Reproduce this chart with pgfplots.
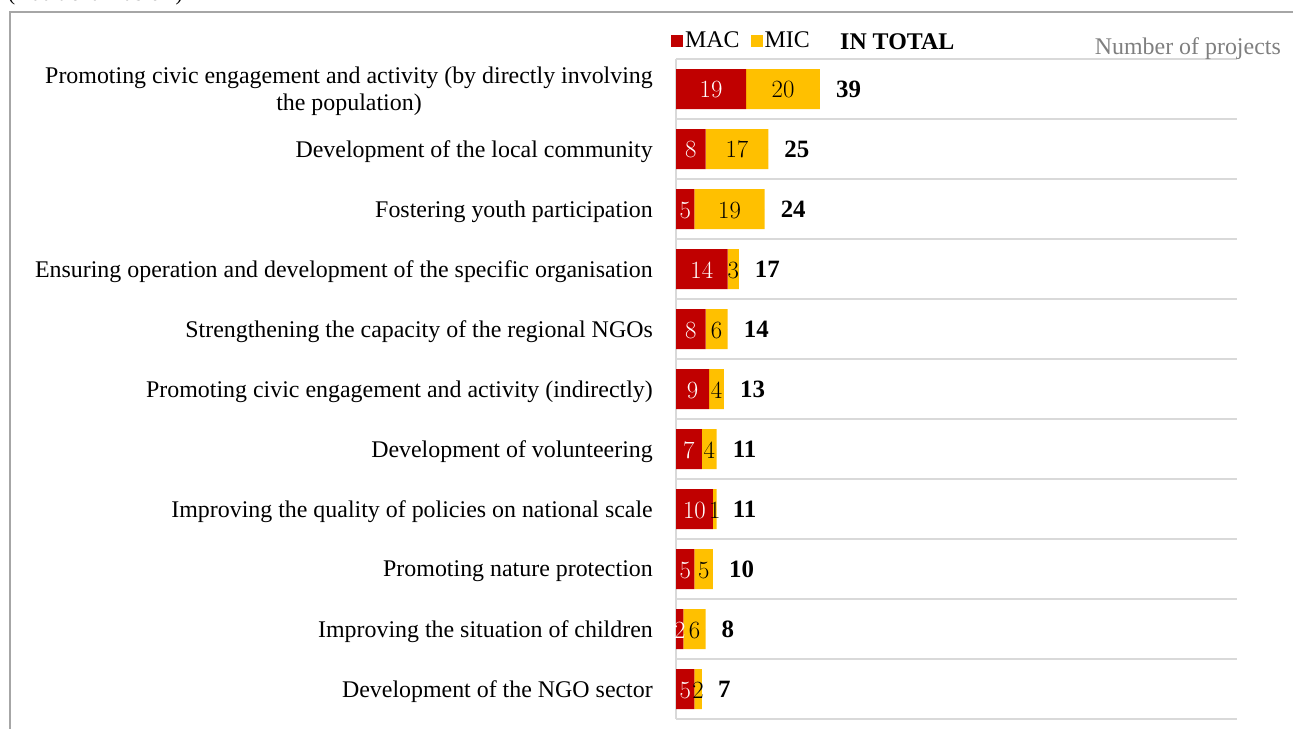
\documentclass[border=0pt]{standalone}
\usepackage{fontspec}
\setmainfont{Liberation Serif}
\usepackage{pgfplots}
\pgfplotsset{compat=1.18}
\usepackage{pgfplotstable}
\definecolor{macred}{HTML}{C00000}
\definecolor{micyel}{HTML}{FFC000}
\definecolor{gridgray}{HTML}{D9D9D9}
\definecolor{framegray}{HTML}{A6A6A6}
\definecolor{unitgray}{HTML}{7F7F7F}

% idx 0 = top row
\pgfplotstableread{
idx mac mic total
0   19  20  39
1   8   17  25
2   5   19  24
3   14  3   17
4   8   6   14
5   9   4   13
6   7   4   11
7   10  1   11
8   5   5   10
9   2   6   8
10  5   2   7
}\projects

\newcommand\lbl{\fontsize{24}{27}\selectfont}
\newcommand\inbar{\fontsize{24}{26}\selectfont}
\newcommand\tot{\fontsize{25}{28}\selectfont\bfseries}

\pgfplotsset{rowaxis/.style={
  at={(676bp,-719bp)}, anchor=south west,
  scale only axis, width=561bp, height=660bp,
  xmin=0, xmax=152, ymin=-0.5, ymax=10.5, y dir=reverse}}

\begin{document}
\begin{tikzpicture}[x=1bp,y=1bp]
\path[use as bounding box] (0,0) rectangle (1293,-729);
\clip (0,0) rectangle (1293,-729);
\draw[framegray, line width=1.2bp] (1300,-12) -- (10,-12) -- (10,-740);
\node[anchor=base west, inner sep=0pt, font=\fontsize{21.5}{24}\selectfont] at (8,-1) {(Additional Table 2)};

\begin{axis}[
  rowaxis,
  xbar stacked, bar width=40bp,
  axis x line=none, axis y line*=left,
  axis line style={gridgray, line width=1.5bp},
  ytick={0,...,10},
  yticklabels={{Promoting civic engagement and activity (by directly involving\\the population)},
    Development of the local community,
    Fostering youth participation,
    Ensuring operation and development of the specific organisation,
    Strengthening the capacity of the regional NGOs,
    Promoting civic engagement and activity (indirectly),
    Development of volunteering,
    Improving the quality of policies on national scale,
    Promoting nature protection,
    Improving the situation of children,
    Development of the NGO sector},
  major tick length=0pt, minor tick length=0pt,
  minor ytick={-0.5,0.5,...,10.5},
  yminorgrids, minor grid style={gridgray, line width=1.5bp},
  yticklabel style={font=\lbl, align=center, inner sep=0pt, xshift=-23bp, yshift=-2.5bp},
  legend style={draw=none, fill=none, inner sep=0pt,
    at={(axis description cs:-0.0089,1.028)}, anchor=west, font=\lbl,
    /tikz/every even column/.append style={column sep=9bp}},
  legend columns=-1,
]
\addplot[fill=macred, draw=none,
  legend image code/.code={\fill[macred] (0bp,-6bp) rectangle (12bp,6bp);},
  nodes near coords,
  every node near coord/.append style={anchor=center, text=white, font=\inbar, yshift=-1bp}]
  table[x=mac, y=idx] {\projects};
\addlegendentry{MAC}
\addplot[fill=micyel, draw=none,
  legend image code/.code={\fill[micyel] (0bp,-6bp) rectangle (12bp,6bp);},
  nodes near coords,
  every node near coord/.append style={anchor=center, text=black, font=\inbar, yshift=-1bp}]
  table[x=mic, y=idx] {\projects};
\addlegendentry{MIC}
\end{axis}

% totals, in an overlaid axis of the same size
\begin{axis}[rowaxis, hide axis, clip=false]
\addplot[only marks, mark=*, mark size=0pt,
  mark options={draw=none, fill=none},
  point meta=explicit symbolic, nodes near coords,
  every node near coord/.append style={anchor=west, text=black, font=\tot,
    inner sep=0pt, xshift=16bp}]
  table[x=total, y=idx, meta=total] {\projects};
\end{axis}

\node[anchor=base west, inner sep=0pt, font=\lbl\bfseries] at (840,-50) {IN TOTAL};
\node[anchor=base east, inner sep=0pt, font=\lbl, text=unitgray] at (1281,-55) {Number of projects};
\end{tikzpicture}
\end{document}
